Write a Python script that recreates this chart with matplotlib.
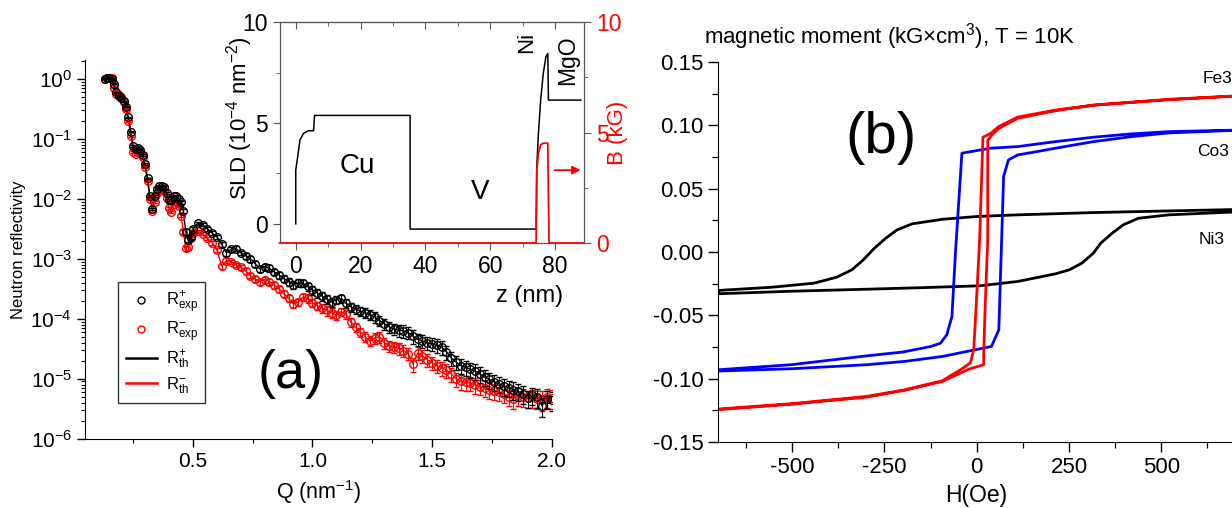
import matplotlib

matplotlib.use("Agg")

import matplotlib.pyplot as plt  # noqa: E402
import numpy as np  # noqa: E402
from matplotlib.lines import Line2D  # noqa: E402
from matplotlib.ticker import (FixedLocator, FormatStrFormatter, LogLocator,  # noqa: E402
                               LogFormatterMathtext, MultipleLocator, NullFormatter)

plt.rcParams.update({
    "font.family": ["Liberation Sans", "DejaVu Sans"],
    "mathtext.default": "regular",
    "axes.unicode_minus": False,
})

# ---- (a) neutron reflectivity (log10 R) ----
q_nm = [0.13, 0.14, 0.15, 0.16, 0.17, 0.18, 0.19, 0.20, 0.21, 0.22,
        0.23, 0.24, 0.25, 0.26, 0.27, 0.28, 0.29, 0.30, 0.31, 0.32,
        0.33, 0.34, 0.35, 0.36, 0.37, 0.38, 0.39, 0.40, 0.41, 0.42,
        0.43, 0.44, 0.45, 0.46, 0.47, 0.48, 0.49, 0.50,
        0.52, 0.54, 0.56, 0.58, 0.60, 0.62, 0.64, 0.66, 0.68, 0.70,
        0.72, 0.74, 0.76, 0.78, 0.80, 0.82, 0.84, 0.86, 0.88, 0.90,
        0.92, 0.94, 0.96, 0.98, 1.00, 1.02, 1.04, 1.06, 1.08, 1.10,
        1.12, 1.14, 1.16, 1.18, 1.20, 1.22, 1.24, 1.26, 1.28, 1.30,
        1.32, 1.34, 1.36, 1.38, 1.40, 1.42, 1.44, 1.46, 1.48, 1.50,
        1.52, 1.54, 1.56, 1.58, 1.60, 1.62, 1.64, 1.66, 1.68, 1.70,
        1.72, 1.74, 1.76, 1.78, 1.80, 1.82, 1.84, 1.86, 1.88, 1.90,
        1.92, 1.94, 1.96, 1.98, 2.00]

log_r_plus = [0.00, 0.01, 0.02, 0.00, -0.08, -0.22, -0.29, -0.32, -0.37, -0.46,
              -0.64, -0.88, -1.12, -1.17, -1.16, -1.19, -1.27, -1.42, -1.66, -1.95,
              -2.17, -1.95, -1.83, -1.78, -1.78, -1.81, -1.90, -2.02, -2.02, -1.96,
              -1.96, -2.00, -2.06, -2.20, -2.55, -2.68, -2.64, -2.50,
              -2.41, -2.43, -2.50, -2.57, -2.63, -2.76, -2.90, -2.84, -2.83, -2.90,
              -2.95, -3.00, -3.08, -3.17, -3.13, -3.16, -3.22, -3.27, -3.33, -3.38,
              -3.43, -3.40, -3.41, -3.46, -3.52, -3.57, -3.62, -3.67, -3.72, -3.68,
              -3.66, -3.74, -3.80, -3.84, -3.87, -3.90, -3.93, -3.97, -4.03, -4.08,
              -4.13, -4.17, -4.19, -4.20, -4.23, -4.29, -4.34, -4.37, -4.40, -4.42,
              -4.44, -4.47, -4.55, -4.65, -4.72, -4.78, -4.81, -4.84, -4.87, -4.92,
              -4.97, -5.01, -5.05, -5.08, -5.12, -5.15, -5.18, -5.21, -5.25, -5.32,
              -5.27, -5.30, -5.45, -5.33, -5.35]

log_r_minus = [0.00, 0.01, 0.02, 0.01, -0.15, -0.25, -0.27, -0.30, -0.38, -0.50,
               -0.70, -0.95, -1.22, -1.25, -1.22, -1.22, -1.30, -1.47, -1.70, -2.00,
               -2.20, -2.05, -1.90, -1.84, -1.83, -1.87, -1.98, -2.15, -2.22, -2.08,
               -2.05, -2.12, -2.28, -2.55, -2.82, -2.80, -2.65, -2.57,
               -2.54, -2.58, -2.66, -2.73, -2.85, -3.12, -3.03, -3.05, -3.10, -3.14,
               -3.20, -3.28, -3.34, -3.38, -3.35, -3.38, -3.44, -3.50, -3.58, -3.66,
               -3.75, -3.72, -3.64, -3.66, -3.73, -3.78, -3.82, -3.86, -3.90, -3.94,
               -3.88, -3.92, -4.05, -4.14, -4.22, -4.30, -4.37, -4.32, -4.30, -4.40,
               -4.45, -4.47, -4.49, -4.53, -4.58, -4.75, -4.57, -4.62, -4.68, -4.73,
               -4.78, -4.82, -4.85, -4.92, -5.00, -5.04, -5.06, -5.07, -5.10, -5.13,
               -5.15, -5.18, -5.20, -5.22, -5.25, -5.30, -5.33, -5.28, -5.30, -5.32,
               -5.31, -5.33, -5.34, -5.30, -5.32]

# relative error of each point
err_frac = [.02, .02, .02, .02, .02, .02, .02, .02, .02, .02,
            .03, .03, .03, .03, .03, .03, .03, .03, .03, .03,
            .05, .04, .04, .04, .04, .04, .05, .05, .05, .05,
            .05, .05, .06, .07, .10, .10, .08, .07,
            .06, .06, .07, .07, .08, .10, .10, .09, .09, .09,
            .10, .10, .11, .12, .11, .12, .12, .13, .13, .14,
            .15, .14, .14, .15, .16, .16, .17, .18, .18, .17,
            .16, .17, .17, .18, .18, .19, .19, .20, .20, .21,
            .21, .22, .22, .23, .23, .26, .24, .24, .25, .25,
            .25, .26, .26, .27, .27, .28, .28, .28, .29, .29,
            .29, .30, .30, .30, .31, .31, .32, .32, .33, .33,
            .33, .34, .36, .34, .35]

# ---- inset: SLD and magnetic induction profiles ----
z_sld = [0, 0, 0.6, 1.3, 2.4, 3.9, 5.5, 5.8, 35.3, 35.3, 74.2, 74.4, 74.9,
         75.6, 76.4, 77.2, 77.8, 78.0, 88.0]
sld = [0, 2.67, 3.33, 4.16, 4.49, 4.62, 4.62, 5.38, 5.38, -0.26, -0.26, 2.84,
       4.49, 6.14, 7.46, 8.28, 8.45, 6.14, 6.14]
z_b = [-5, 74.2, 74.4, 74.9, 75.6, 76.4, 77.8, 78.0, 78.2, 89]
b_kg = [0, 0, 3.3, 4.07, 4.45, 4.52, 4.52, 1.96, 0, 0]

# ---- (b) hysteresis loops, T = 10 K ----
ni_h_down = [700, 520, 316, 111, 0, -93, -175, -216, -246, -277, -307, -338, -379, -440, -553, -700]
ni_m_down = [0.0335, 0.0324, 0.0311, 0.0293, 0.0280, 0.0258, 0.0222, 0.0174, 0.0109, 0.0030,
             -0.0062, -0.0141, -0.0199, -0.0246, -0.0278, -0.0304]
ni_h_up = [-700, -502, -297, -150, 9, 111, 213, 251, 285, 316, 336, 367, 397, 438, 520, 683, 700]
ni_m_up = [-0.0330, -0.0310, -0.0294, -0.0282, -0.0267, -0.0233, -0.0173, -0.0141, -0.0088,
           -0.0010, 0.0069, 0.0148, 0.0214, 0.0266, 0.0293, 0.0314, 0.0316]

co_h_down = [700, 520, 418, 316, 213, 111, 37, -40, -57, -67, -81, -98, -124, -200, -297, -502, -700]
co_m_down = [0.0962, 0.0950, 0.0932, 0.0906, 0.0871, 0.0832, 0.0819, 0.0780, 0.0016, -0.0509,
             -0.0654, -0.0720, -0.0746, -0.0790, -0.0820, -0.0890, -0.0930]
co_h_up = [-700, -502, -297, -195, -93, 40, 60, 73, 86, 111, 163, 213, 316, 418, 520, 700]
co_m_up = [-0.0940, -0.0922, -0.0890, -0.0864, -0.0825, -0.0746, -0.0615, 0.0595, 0.0727,
           0.0766, 0.0792, 0.0819, 0.0871, 0.0910, 0.0940, 0.0960]

fe_h_down = [700, 520, 316, 213, 111, 60, 37, 17, 8, 1, -8, -17, -36, -93, -195, -297, -502, -700]
fe_m_down = [0.1232, 0.1205, 0.1160, 0.1120, 0.1065, 0.0990, 0.0935, 0.0906, 0.0100, -0.0300,
             -0.0773, -0.0875, -0.0915, -0.1017, -0.1088, -0.1140, -0.1198, -0.1240]
fe_h_up = [-700, -502, -297, -195, -93, -21, 19, 19, 23, 30, 30, 40, 60, 111, 213, 316, 520, 700]
fe_m_up = [-0.1245, -0.1202, -0.1146, -0.1092, -0.1022, -0.0925, -0.0890, -0.0810, -0.0430,
           0.0100, 0.0880, 0.0920, 0.0975, 0.1055, 0.1115, 0.1158, 0.1202, 0.1230]

fig = plt.figure(figsize=(12.32, 5.08), dpi=100)

# ---------------- panel (a) ----------------
ax_a = fig.add_axes([0.0693, 0.1364, 0.3784, 0.7455])
q = np.array(q_nm)
r_plus = 10.0 ** np.array(log_r_plus)
r_minus = 10.0 ** np.array(log_r_minus)
err = np.array(err_frac)

ax_a.plot(q, r_minus, color="red", lw=1.0, zorder=1)
ax_a.plot(q, r_plus, color="black", lw=1.0, zorder=1)
ax_a.errorbar(q, r_minus, yerr=r_minus * err, fmt="o", mfc="none", mec="red", ecolor="red",
              ms=5.5, mew=1, elinewidth=0.8, capsize=2.5, zorder=2)
ax_a.errorbar(q, r_plus, yerr=r_plus * err, fmt="o", mfc="none", mec="black", ecolor="black",
              ms=5.5, mew=1, elinewidth=0.8, capsize=2.5, zorder=3)

ax_a.set_yscale("log")
ax_a.set_xlim(0.05, 2.0)
ax_a.set_ylim(1e-6, 2.07)
for side in ("top", "right"):
    ax_a.spines[side].set_visible(False)
ax_a.xaxis.set_major_locator(FixedLocator([0.5, 1.0, 1.5, 2.0]))
ax_a.xaxis.set_minor_locator(MultipleLocator(0.25))
ax_a.xaxis.set_major_formatter(FormatStrFormatter("%.1f"))
ax_a.yaxis.set_major_locator(LogLocator(base=10, numticks=12))
ax_a.yaxis.set_minor_locator(LogLocator(base=10, subs=np.arange(2, 10), numticks=12))
ax_a.yaxis.set_major_formatter(LogFormatterMathtext())
ax_a.yaxis.set_minor_formatter(NullFormatter())
ax_a.tick_params(which="major", direction="out", length=6, width=1, labelsize=15)
ax_a.tick_params(which="minor", direction="out", length=3, width=0.8)
ax_a.set_xlabel("Q (nm$^{-1}$)", fontsize=15.5, labelpad=5)
ax_a.set_ylabel("Neutron reflectivity", fontsize=12)
ax_a.yaxis.set_label_coords(-0.127, 0.5)
ax_a.text(0.91, 10 ** -4.92, "(a)", fontsize=39, ha="center", va="center")

handles = [
    Line2D([], [], marker="o", ls="none", mfc="none", mec="black", ms=5, mew=1),
    Line2D([], [], marker="o", ls="none", mfc="none", mec="red", ms=5, mew=1),
    Line2D([], [], color="black", lw=1.8),
    Line2D([], [], color="red", lw=1.8),
]
labels = [r"$R^{+}_{exp}$", r"$R^{-}_{exp}$", r"$R^{+}_{th}$", r"$R^{-}_{th}$"]
leg = ax_a.legend(handles, labels, loc="upper left", bbox_to_anchor=(0.07, 0.414),
                  borderaxespad=0, fancybox=False, edgecolor="black", fontsize=12,
                  handlelength=1.9, labelspacing=0.25, borderpad=0.45, handletextpad=0.5)
leg.get_frame().set_linewidth(1.0)

# ---------------- inset ----------------
frame = "#555555"
ax_in = fig.add_axes([0.2273, 0.5217, 0.2468, 0.4344])
ax_in.plot(z_sld, sld, color="black", lw=1.1)
ax_in.set_xlim(-4.85, 89)
ax_in.set_ylim(-0.95, 10)
ax_in.xaxis.set_major_locator(MultipleLocator(20))
ax_in.xaxis.set_minor_locator(MultipleLocator(10))
ax_in.yaxis.set_major_locator(MultipleLocator(5))
ax_in.yaxis.set_minor_locator(MultipleLocator(2.5))
ax_in.tick_params(which="both", direction="out", labelsize=16.5, color=frame)
ax_in.tick_params(which="major", length=5)
ax_in.tick_params(which="minor", length=3)
for sp in ax_in.spines.values():
    sp.set_color(frame)
top = ax_in.secondary_xaxis("top")
top.xaxis.set_major_locator(MultipleLocator(20))
top.xaxis.set_minor_locator(MultipleLocator(10))
top.tick_params(which="both", direction="in", labeltop=False, color=frame)
top.tick_params(which="major", length=5)
top.tick_params(which="minor", length=3)
top.spines["top"].set_color(frame)
ax_in.set_xlabel("z (nm)", fontsize=17)
ax_in.xaxis.set_label_coords(0.82, -0.19)
ax_in.set_ylabel("SLD (10$^{-4}$ nm$^{-2}$)", fontsize=16)
ax_in.yaxis.set_label_coords(-0.082, 0.566)
ax_in.text(19.0, 2.87, "Cu", fontsize=20, ha="center", va="center")
ax_in.text(57.0, 1.56, "V", fontsize=20, ha="center", va="center")
ax_in.text(71.4, 9.0, "Ni", fontsize=16, ha="center", va="center", rotation=90)
ax_in.text(83.9, 8.1, "MgO", fontsize=16.5, ha="center", va="center", rotation=90)

ax_b_in = ax_in.twinx()
ax_b_in.plot(z_b, b_kg, color="red", lw=1.3, clip_on=False)
ax_b_in.set_ylim(0, 10)
ax_b_in.yaxis.set_major_locator(MultipleLocator(5))
ax_b_in.yaxis.set_minor_locator(MultipleLocator(2.5))
ax_b_in.tick_params(which="both", direction="out", labelsize=16.5, labelcolor="red", color=frame)
ax_b_in.tick_params(which="major", length=5)
ax_b_in.tick_params(which="minor", length=3)
for sp in ax_b_in.spines.values():
    sp.set_color(frame)
ax_b_in.set_ylabel("B (kG)", fontsize=16, color="red")
ax_b_in.yaxis.set_label_coords(1.075, 0.5)
ax_b_in.annotate("", xy=(88.8, 3.3), xytext=(79.0, 3.3),
                 arrowprops=dict(arrowstyle="-|>", color="red", lw=1.3, mutation_scale=12))

# ---------------- panel (b) ----------------
ax_b = fig.add_axes([0.583, 0.13, 0.4195, 0.748])
loops = [
    (ni_h_down + ni_h_up, ni_m_down + ni_m_up, "black"),
    (co_h_down + co_h_up, co_m_down + co_m_up, "#0000ff"),
    (fe_h_down + fe_h_up, fe_m_down + fe_m_up, "#ff0000"),
]
for h, m, c in loops:
    ax_b.plot(h, m, color=c, lw=2.0, solid_joinstyle="round")
ax_b.set_xlim(-700, 700)
ax_b.set_ylim(-0.15, 0.15)
for side in ("top", "right"):
    ax_b.spines[side].set_visible(False)
ax_b.xaxis.set_major_locator(FixedLocator([-500, -250, 0, 250, 500]))
ax_b.xaxis.set_minor_locator(MultipleLocator(125))
ax_b.yaxis.set_major_locator(MultipleLocator(0.05))
ax_b.yaxis.set_minor_locator(MultipleLocator(0.025))
ax_b.yaxis.set_major_formatter(FormatStrFormatter("%.2f"))
ax_b.tick_params(which="major", direction="out", length=7, width=1, labelsize=16)
ax_b.tick_params(which="minor", direction="out", length=4, width=0.9)
ax_b.set_xlabel("H(Oe)", fontsize=16.5, labelpad=5)
ax_b.text(-258, 0.09, "(b)", fontsize=42, ha="center", va="center")
ax_b.text(613, 0.137, "Fe3", fontsize=12.5, ha="left", va="center", clip_on=False)
ax_b.text(597, 0.0792, "Co3", fontsize=12.5, ha="left", va="center", clip_on=False)
ax_b.text(600, 0.0096, "Ni3", fontsize=12.5, ha="left", va="center", clip_on=False)
fig.text(704 / 1232, 1 - 37 / 508, "magnetic moment (kG\u00d7cm$^{3}$), T = 10K",
         fontsize=16, ha="left", va="center")

fig.savefig("out.png", dpi=100)
